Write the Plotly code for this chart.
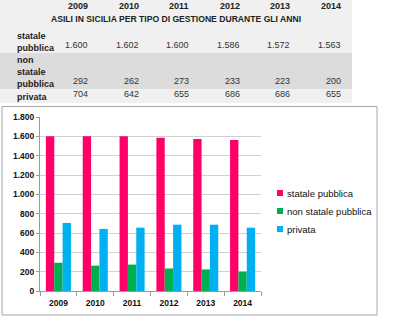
import plotly.graph_objects as go

years = ["2009", "2010", "2011", "2012", "2013", "2014"]
series_names = ["statale pubblica", "non statale pubblica", "privata"]
statale_pubblica = [1600, 1602, 1600, 1586, 1572, 1563]
non_statale_pubblica = [292, 262, 273, 233, 223, 200]
privata = [704, 642, 655, 686, 686, 655]
colors = ["#FF0066", "#00B050", "#00B0F0"]
title_text = "ASILI IN SICILIA PER TIPO DI GESTIONE DURANTE GLI ANNI"

series_values = [statale_pubblica, non_statale_pubblica, privata]

W, H = 402, 323
L, R, T, B = 40, 261, 117, 291


def px(x):
    return (x - L) / (R - L)


def py(y):
    return (B - y) / (B - T)


fig = go.Figure()
for name, vals, col in zip(series_names, series_values, colors):
    fig.add_trace(go.Bar(x=years, y=vals, name=name, marker_color=col,
                         marker_line_width=0, showlegend=False))

shapes = []
annotations = []

# table background
shapes.append(dict(type="rect", xref="paper", yref="paper", x0=px(0), x1=px(352),
                   y0=py(0), y1=py(103), fillcolor="#f0f0f0", line_width=0, layer="below"))
shapes.append(dict(type="rect", xref="paper", yref="paper", x0=px(0), x1=px(352),
                   y0=py(53), y1=py(89), fillcolor="#dcdcdc", line_width=0, layer="below"))
# chart box
shapes.append(dict(type="rect", xref="paper", yref="paper", x0=px(2), x1=px(377),
                   y0=py(106.5), y1=py(315), fillcolor="rgba(0,0,0,0)",
                   line=dict(color="#a6a6a6", width=1), layer="below"))

tfont = dict(family="Liberation Sans, Arial", size=9, color="#333333")
bfont = dict(family="Liberation Sans, Arial", size=9, color="#222222")

col_right = [90 + 50.6 * i for i in range(len(years))]
for yr, xr in zip(years, col_right):
    annotations.append(dict(text="<b>%s</b>" % yr, x=px(xr), y=py(6), xref="paper", yref="paper",
                            xanchor="right", yanchor="middle", showarrow=False, font=bfont))
annotations.append(dict(text="<b>%s</b>" % title_text, x=px(176), y=py(19), xref="paper",
                        yref="paper", xanchor="center", yanchor="middle", showarrow=False,
                        font=dict(family="Liberation Sans, Arial", size=8.6, color="#222222")))

value_rows_y = [45, 81, 94]
for name, vals, vy in zip(series_names, series_values, value_rows_y):
    words = name.split()
    n = len(words)
    for k, w in enumerate(words):
        ly = vy + 2.5 - (n - 1 - k) * 11.6
        annotations.append(dict(text="<b>%s</b>" % w, x=px(15), y=py(ly), xref="paper",
                                yref="paper", xanchor="left", yanchor="middle",
                                showarrow=False, font=bfont))
    for v, xr in zip(vals, col_right):
        s = f"{v:,}".replace(",", ".")
        annotations.append(dict(text=s, x=px(xr), y=py(vy), xref="paper", yref="paper",
                                xanchor="right", yanchor="middle", showarrow=False, font=tfont))

# legend (manual)
leg_y = [193, 211, 229]
for name, col, ly in zip(series_names, colors, leg_y):
    shapes.append(dict(type="rect", xref="paper", yref="paper", x0=px(277), x1=px(283),
                       y0=py(ly - 3), y1=py(ly + 3), fillcolor=col, line_width=0))
    annotations.append(dict(text=name, x=px(284.5), y=py(ly), xref="paper", yref="paper",
                            xanchor="left", yanchor="middle", showarrow=False,
                            font=dict(family="Liberation Sans, Arial", size=9.5, color="#111111")))

fig.update_layout(
    width=W, height=H,
    margin=dict(l=L, r=W - R, t=T, b=H - B, pad=0),
    paper_bgcolor="white", plot_bgcolor="white",
    barmode="group", bargap=0.32, bargroupgap=0,
    separators=",.",
    shapes=shapes, annotations=annotations,
    font=dict(family="Liberation Sans, Arial", size=9, color="#111111"),
    xaxis=dict(type="category", showline=True, linecolor="#9a9a9a", linewidth=1,
               ticks="outside", tickson="boundaries", ticklen=4, tickcolor="#9a9a9a",
               ticklabelstandoff=4,
               tickfont=dict(family="Liberation Sans, Arial", size=8.5, color="#111111"),
               showgrid=False, fixedrange=True),
    yaxis=dict(range=[0, 1800], dtick=200, tickformat=",d", showline=True,
               linecolor="#9a9a9a", linewidth=1, ticks="outside", ticklen=3,
               tickcolor="#9a9a9a", gridcolor="#d0d0d0", gridwidth=1,
               tickfont=dict(family="Liberation Sans, Arial", size=8.5, color="#111111"),
               zeroline=False, fixedrange=True),
)
fig.update_xaxes(tickfont_weight="bold")
fig.update_yaxes(tickfont_weight="bold")

fig.write_html("out.html")
